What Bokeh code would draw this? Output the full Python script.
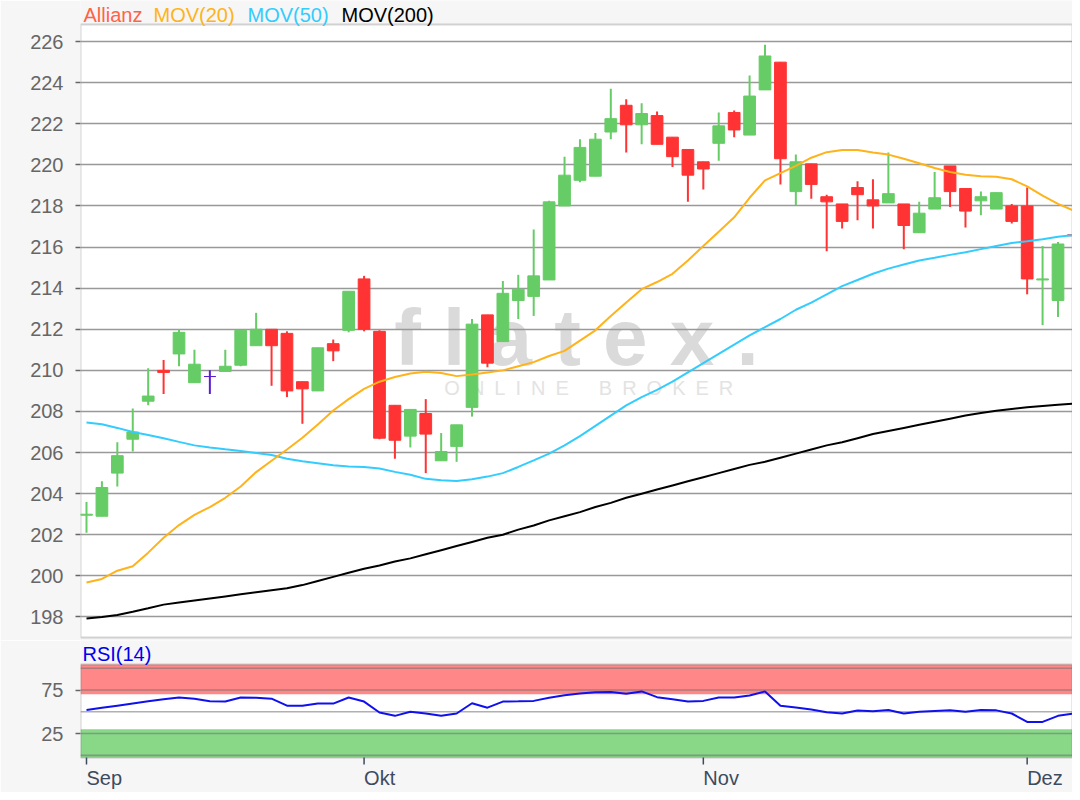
from bokeh.plotting import figure
from bokeh.layouts import column
from bokeh.models import ColumnDataSource, FixedTicker, Label, Span, BoxAnnotation, Range1d
from bokeh.embed import file_html
from bokeh.resources import INLINE

# ---------------- data ----------------
OPEN = [202.95, 202.9, 205.0, 206.65, 208.5, 210.0, 210.8, 209.4, 209.7, 209.95,
        210.25, 211.2, 212.0, 211.8, 209.45, 209.0, 211.3, 211.95, 214.45, 211.9,
        208.3, 206.8, 207.9, 205.6, 206.3, 208.2, 212.7, 211.4, 213.4, 213.6,
        214.4, 218.0, 219.25, 219.45, 221.6, 222.9, 221.95, 222.4, 221.35, 220.75,
        220.15, 221.05, 222.55, 221.45, 223.65, 225.0, 218.7, 220.05, 218.45, 218.1,
        218.9, 218.3, 218.15, 218.1, 216.7, 217.85, 219.95, 218.85, 218.25, 217.85,
        218.0, 218.0, 214.4, 213.4, 216.6]
HIGH = [203.6, 204.6, 206.5, 208.15, 210.1, 210.5, 212.0, 211.0, 210.0, 211.0,
        211.95, 212.8, 212.0, 211.9, 209.45, 211.1, 211.5, 213.85, 214.6, 211.95,
        208.3, 208.1, 208.6, 206.95, 207.35, 212.5, 212.7, 214.35, 214.65, 216.85,
        218.25, 220.4, 221.25, 221.55, 223.7, 223.2, 223.0, 222.6, 221.35, 220.75,
        220.15, 222.55, 222.65, 224.35, 225.85, 225.0, 220.5, 220.05, 218.55, 218.1,
        219.2, 219.3, 220.6, 218.1, 218.2, 219.65, 219.95, 218.85, 218.7, 218.65,
        218.1, 218.9, 216.05, 216.25, 216.85]
LOW = [202.1, 202.9, 204.35, 206.05, 208.3, 208.85, 210.2, 209.4, 208.85, 209.95,
       210.2, 211.2, 209.25, 208.7, 207.4, 209.0, 210.45, 211.85, 211.9, 206.65,
       205.7, 206.25, 205.0, 205.6, 205.55, 207.75, 210.15, 211.4, 212.5, 212.65,
       214.4, 218.0, 219.15, 219.45, 221.25, 220.6, 221.0, 221.0, 219.9, 218.2,
       218.8, 220.2, 221.35, 221.45, 223.65, 219.05, 218.05, 218.35, 215.8, 216.9,
       217.3, 216.9, 218.15, 215.9, 216.7, 217.85, 217.95, 216.95, 217.55, 217.85,
       217.15, 213.7, 212.2, 212.6, 216.4]
CLOSE = [203.0, 204.3, 205.85, 207.0, 208.75, 209.9, 211.85, 210.3, 209.7, 210.2,
         211.95, 212.0, 211.2, 209.0, 209.1, 211.1, 210.95, 213.85, 212.0, 206.7,
         206.6, 208.1, 206.9, 206.05, 207.35, 212.25, 210.35, 213.75, 213.95, 214.6,
         218.2, 219.5, 220.85, 221.25, 222.25, 221.95, 222.5, 221.0, 220.4, 219.5,
         219.8, 221.9, 221.7, 223.35, 225.3, 220.3, 220.15, 219.05, 218.2, 217.25,
         218.55, 218.0, 218.6, 217.05, 217.65, 218.4, 218.7, 217.75, 218.45, 218.65,
         217.25, 214.45, 214.45, 216.15, 216.55]
MA20 = [199.68, 199.85, 200.25, 200.47, 201.13, 201.85, 202.47, 202.97, 203.35, 203.8,
        204.35, 205.05, 205.6, 206.15, 206.72, 207.37, 208.05, 208.6, 209.1, 209.45,
        209.68, 209.85, 209.93, 209.87, 209.72, 209.8, 209.9, 210.0, 210.2, 210.4,
        210.7, 210.95, 211.45, 211.95, 212.65, 213.3, 213.95, 214.3, 214.7, 215.35,
        216.05, 216.75, 217.45, 218.4, 219.25, 219.6, 219.95, 220.35, 220.62, 220.72,
        220.72, 220.6, 220.5, 220.3, 220.08, 219.85, 219.65, 219.52, 219.45, 219.42,
        219.3, 218.95, 218.5, 218.1, 217.78]
MA50 = [207.46, 207.38, 207.2, 207.0, 206.85, 206.7, 206.52, 206.35, 206.25, 206.16,
        206.08, 205.98, 205.88, 205.7, 205.58, 205.48, 205.38, 205.32, 205.3, 205.22,
        205.06, 204.92, 204.72, 204.65, 204.62, 204.7, 204.83, 205.0, 205.3, 205.62,
        205.95, 206.35, 206.8, 207.3, 207.8, 208.3, 208.7, 209.05, 209.45, 209.9,
        210.35, 210.8, 211.25, 211.7, 212.1, 212.5, 212.95, 213.3, 213.7, 214.1,
        214.4, 214.7, 214.95, 215.15, 215.35, 215.48, 215.62, 215.75, 215.9, 216.05,
        216.2, 216.28, 216.38, 216.5, 216.58]
MA200 = [197.93, 198.0, 198.1, 198.25, 198.42, 198.6, 198.7, 198.8, 198.9, 199.0,
         199.1, 199.2, 199.3, 199.4, 199.55, 199.75, 199.95, 200.15, 200.35, 200.5,
         200.7, 200.85, 201.05, 201.25, 201.45, 201.65, 201.85, 202.0, 202.25, 202.45,
         202.7, 202.9, 203.1, 203.35, 203.55, 203.8, 204.0, 204.2, 204.4, 204.6,
         204.8, 205.0, 205.2, 205.4, 205.55, 205.75, 205.95, 206.15, 206.35, 206.5,
         206.7, 206.9, 207.05, 207.2, 207.35, 207.5, 207.65, 207.8, 207.92, 208.03,
         208.12, 208.2, 208.27, 208.33, 208.38]
RSI14 = [52.0, 54.5, 57.0, 59.5, 62.0, 64.5, 66.4, 65.0, 62.0, 61.7,
         66.4, 66.2, 65.0, 57.0, 57.0, 59.4, 59.4, 66.4, 61.7, 49.2,
         45.3, 50.0, 48.0, 45.3, 48.0, 59.8, 54.7, 61.7, 62.0, 62.5,
         66.0, 69.0, 71.0, 72.5, 72.8, 70.8, 73.4, 66.8, 64.5, 61.7,
         62.5, 66.4, 66.4, 68.7, 73.4, 57.0, 55.0, 52.5, 49.5, 48.0,
         51.5, 50.5, 52.0, 48.0, 50.0, 50.8, 51.6, 50.0, 52.0, 51.6,
         48.0, 38.3, 38.3, 45.3, 48.0]
MONTH_LABELS = ["Sep", "Okt", "Nov", "Dez"]
MONTH_POS = [0, 18, 40, 61]
Y_TICKS = list(range(198, 227, 2))
RSI_TICKS = [25, 75]
RSI_LEVELS = [0, 25, 50, 75, 100]
OVERBOUGHT = 70
OVERSOLD = 30
TITLE_PARTS = ["Allianz", "MOV(20)", "MOV(50)", "MOV(200)"]

# ---------------- styling / layout ----------------
FONT = "Liberation Sans"
GREEN, RED, DOJI = "#66cc66", "#ff3333", "#5b1fd0"
C_TITLE = ["#ff6347", "#ffb31a", "#33ccff", "#000000"]
TITLE_OFFS = [3, 73, 167, 261]
BG = "#f6f6f6"
W = 1072

XMIN, XMAX = -0.389, 63.94          # visible index window
YMIN, YMAX = 197.0, 226.83          # price panel
VIEW_MAIN = (196.854, 228.0)        # frame incl. title strip
RSI_YMIN, RSI_YMAX = -2.6, 104.3    # rsi panel
VIEW_RSI = (-42.8, 131.9)           # frame incl. label strips
RSI_PPU = 152 / (VIEW_RSI[1] - VIEW_RSI[0])

idx = list(range(len(OPEN)))
colors = [GREEN if c > o else (RED if c < o else DOJI) for o, c in zip(OPEN, CLOSE)]
src = ColumnDataSource(dict(
    x=idx, h=HIGH, l=LOW,
    top=[max(o, c) for o, c in zip(OPEN, CLOSE)],
    bottom=[min(o, c) for o, c in zip(OPEN, CLOSE)],
    color=colors))

xr = Range1d(XMIN, XMAX)


def style_yaxis(ax, ticks):
    ax.ticker = FixedTicker(ticks=ticks)
    ax.axis_line_color = None
    ax.major_tick_line_color = "#666666"
    ax.major_tick_line_width = 1.5
    ax.major_tick_out = 5
    ax.major_tick_in = 0
    ax.minor_tick_line_color = None
    ax.major_label_standoff = 12
    ax.major_label_text_font = FONT
    ax.major_label_text_font_size = "20px"
    ax.major_label_text_color = "#666666"


# ---------------- price panel ----------------
p = figure(width=W, height=640, x_range=xr, y_range=Range1d(*VIEW_MAIN),
           output_backend="svg", toolbar_location=None, x_axis_location=None,
           min_border_left=80, min_border_right=0, min_border_top=0, min_border_bottom=0,
           background_fill_color=BG, border_fill_color=BG)
p.outline_line_color = None
p.add_layout(BoxAnnotation(bottom=YMIN, top=YMAX, fill_color="white", fill_alpha=1.0,
                           line_color="#707070", line_width=2, level="image"))
p.xgrid.visible = False
p.ygrid.ticker = FixedTicker(ticks=Y_TICKS)
p.ygrid.grid_line_color = "#999999"
p.ygrid.grid_line_width = 1.5
style_yaxis(p.yaxis[0], Y_TICKS)

# watermark
p.add_layout(Label(x=(XMIN + XMAX) / 2, y=YMIN + 0.49 * (YMAX - YMIN), text="f l a t e x .",
                   text_font=FONT, text_font_size="80px", text_font_style="bold",
                   text_color="#dadada", text_align="center", text_baseline="alphabetic",
                   level="image"))
p.add_layout(Label(x=(XMIN + XMAX) / 2 + 0.8, y=YMIN + 0.407 * (YMAX - YMIN),
                   text="O\u2002N\u2002L\u2002I\u2002N\u2002E\u2002\u2002\u2002B\u2002R\u2002O\u2002K\u2002E\u2002R",
                   text_font=FONT, text_font_size="20px",
                   text_color="#e3e3e3", text_align="center", text_baseline="alphabetic",
                   level="image"))

p.segment(x0="x", y0="h", x1="x", y1="l", line_color="color", line_width=2, source=src)
p.vbar(x="x", width=0.76, top="top", bottom="bottom", fill_color="color",
       line_color="color", line_width=1, source=src)
p.line(idx, MA200, line_color="#000000", line_width=2)
p.line(idx, MA50, line_color="#33ccff", line_width=2)
p.line(idx, MA20, line_color="#ffb31a", line_width=2)

for txt, col, off in zip(TITLE_PARTS, C_TITLE, TITLE_OFFS):
    p.add_layout(Label(x=XMIN, y=YMAX, x_offset=off, y_offset=10, text=txt,
                       text_color=col, text_font=FONT, text_font_size="20px",
                       text_baseline="middle", text_align="left"))

# ---------------- RSI panel ----------------
r = figure(width=W, height=152, x_range=xr, y_range=Range1d(*VIEW_RSI),
           output_backend="svg", toolbar_location=None, x_axis_location=None,
           min_border_left=80, min_border_right=0, min_border_top=0, min_border_bottom=0,
           background_fill_color=BG, border_fill_color=BG)
r.outline_line_color = None
r.xgrid.visible = False
r.ygrid.visible = False
r.add_layout(BoxAnnotation(bottom=RSI_YMIN, top=RSI_YMAX, fill_color="white", fill_alpha=1.0,
                           line_color=None, level="image"))
r.add_layout(BoxAnnotation(bottom=OVERBOUGHT, top=RSI_YMAX, fill_color="#ff8787", fill_alpha=1.0,
                           line_color=None, level="image"))
r.add_layout(BoxAnnotation(bottom=RSI_YMIN, top=OVERSOLD, fill_color="#88d888", fill_alpha=1.0,
                           line_color=None, level="image"))
r.add_layout(BoxAnnotation(bottom=RSI_YMIN, top=RSI_YMAX, fill_alpha=0.0,
                           line_color="#666666", line_width=2, level="underlay"))
for lv in RSI_LEVELS:
    r.add_layout(Span(location=lv, dimension="width", line_color="#707070",
                      line_alpha=0.55, line_width=1.5, level="underlay"))
r.line(idx, RSI14, line_color="#1010ee", line_width=2)
style_yaxis(r.yaxis[0], RSI_TICKS)

# month ticks below the RSI panel
tick_len = 7 / RSI_PPU
r.segment(x0=MONTH_POS, y0=[RSI_YMIN] * len(MONTH_POS), x1=MONTH_POS,
          y1=[RSI_YMIN - tick_len] * len(MONTH_POS), line_color="#3c4b5f", line_width=1.5)
for pos, name in zip(MONTH_POS, MONTH_LABELS):
    r.add_layout(Label(x=pos, y=RSI_YMIN, y_offset=-20, text=name, text_color="#3c4b5f",
                       text_font=FONT, text_font_size="20px", text_baseline="middle",
                       text_align="left"))

r.add_layout(Label(x=XMIN, y=RSI_YMAX, x_offset=2, y_offset=11, text="RSI(14)",
                   text_color="#0000ee", text_font=FONT, text_font_size="20px",
                   text_baseline="middle", text_align="left"))

layout = column(p, r, spacing=0)
open("out.html", "w").write(file_html(layout, INLINE, title="Allianz"))
